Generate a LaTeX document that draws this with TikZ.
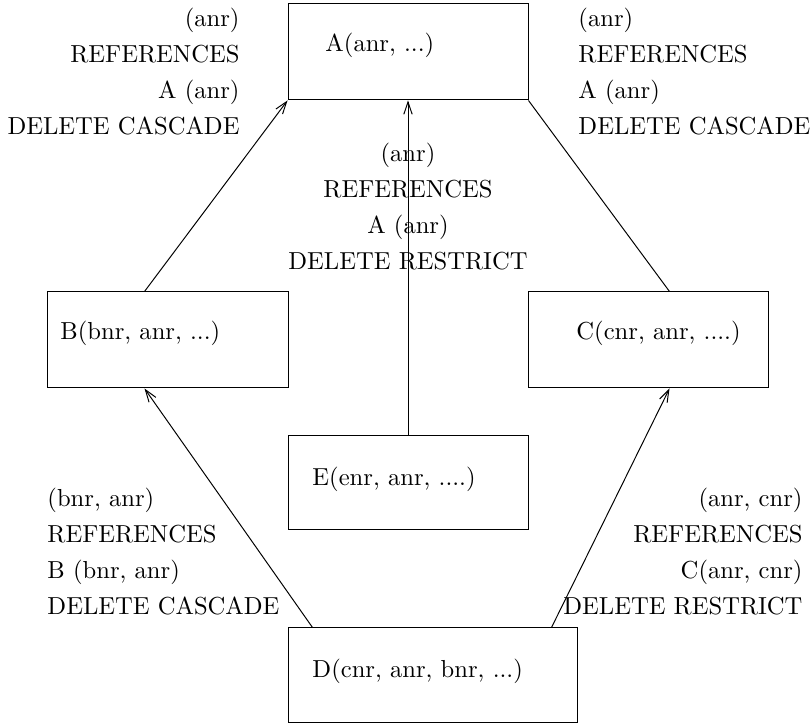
\documentclass[tikz,border=0pt]{standalone}
\usetikzlibrary{arrows.meta, calc, fit}

\begin{document}
\begin{tikzpicture}[
  x=0.4066pt, y=-0.4066pt,
  every node/.style={font=\normalsize, inner sep=0pt},
  box/.style={draw, thin, inner sep=0pt},
  link/.style={thin, -{Straight Barb[length=5pt, width=3.4pt]}},
]
\useasboundingbox (0,0) rectangle (810,727);

% Tables
\node[box, fit={(288,4) (528,100)}] (A) {};
\node[anchor=base west] (tA) at (325,52) {A(anr, ...)};

\node[box, fit={(47,292) (288,388)}] (B) {};
\node[anchor=base west] (tB) at (60,340) {B(bnr, anr, ...)};

\node[box, fit={(528,292) (768,388)}] (C) {};
\node[anchor=base west] (tC) at (576,340) {C(cnr, anr, ....)};

\node[box, fit={(288,436) (528,530)}] (E) {};
\node[anchor=base west] (tE) at (312,486) {E(enr, anr, ....)};

\node[box, fit={(288,628) (577,723)}] (D) {};
\node[anchor=base west] (tD) at (312,678) {D(cnr, anr, bnr, ...)};

% Foreign keys
\draw[link] ($(B.north west)+(98,0)$) -- (A.south west);
\draw[link] (E.north) -- (A.south);
\draw[thin] ($(C.north west)+(142,0)$) -- (A.south east);
\draw[link] ($(D.north west)+(25,0)$) -- ($(B.south west)+(98,0)$);
\draw[link] ($(D.north west)+(264,0)$) -- ($(C.south west)+(142,0)$);

% B -> A
\node[anchor=base east] (ba1) at (240,27) {(anr)};
\node[anchor=base east] (ba2) at (240,63) {REFERENCES};
\node[anchor=base east] (ba3) at (240,99) {A (anr)};
\node[anchor=base east] (ba4) at (240,135) {DELETE CASCADE};

% C -> A
\node[anchor=base west] (ca1) at (578,27) {(anr)};
\node[anchor=base west] (ca2) at (578,63) {REFERENCES};
\node[anchor=base west] (ca3) at (578,99) {A (anr)};
\node[anchor=base west] (ca4) at (578,135) {DELETE CASCADE};

% E -> A
\node[anchor=base] (ea1) at (408,162) {(anr)};
\node[anchor=base] (ea2) at (408,198) {REFERENCES};
\node[anchor=base] (ea3) at (408,234) {A (anr)};
\node[anchor=base] (ea4) at (408,270) {DELETE RESTRICT};

% D -> B
\node[anchor=base west] (db1) at (47,507) {(bnr, anr)};
\node[anchor=base west] (db2) at (47,543) {REFERENCES};
\node[anchor=base west] (db3) at (47,579) {B (bnr, anr)};
\node[anchor=base west] (db4) at (47,615) {DELETE CASCADE};

% D -> C
\node[anchor=base east] (dc1) at (803,507) {(anr, cnr)};
\node[anchor=base east] (dc2) at (803,543) {REFERENCES};
\node[anchor=base east] (dc3) at (803,579) {C(anr, cnr)};
\node[anchor=base east] (dc4) at (803,615) {DELETE RESTRICT};

\end{tikzpicture}
\end{document}
